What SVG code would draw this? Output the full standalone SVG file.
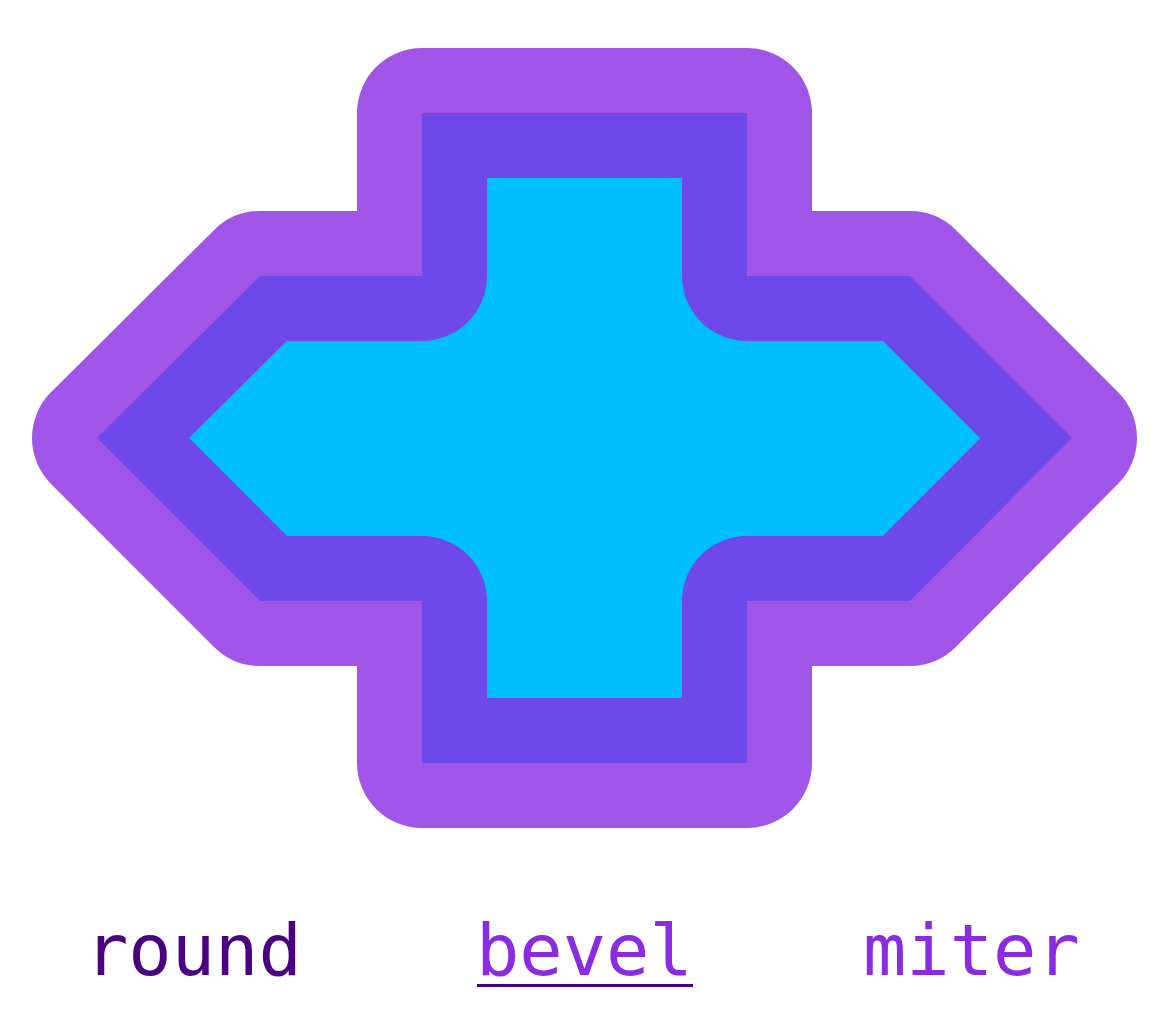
<svg xmlns="http://www.w3.org/2000/svg" width="1170" height="1014" viewBox="0 0 1170 1014">
<style>
.lbl{font-family:"DejaVu Sans Mono","Liberation Mono",monospace;font-size:72px}
</style>
<rect width="1170" height="1014" fill="#ffffff"/>
<g id="shape">
<path d="M422,113 L747,113 L747,276 L910,276 L1072,438 L910,601 L747,601 L747,763 L422,763 L422,601 L260,601 L97,438 L260,276 L422,276 Z" fill="#00bfff" stroke="#8a2be2" stroke-opacity="0.8" stroke-width="130" stroke-linejoin="round"/>
</g>
<g id="label-round"><text class="lbl" x="85" y="975" fill="#4b0082">round</text></g>
<g id="label-bevel"><text class="lbl" x="476" y="975" fill="#8a2be2">bevel</text>
<line x1="477" y1="985.5" x2="693" y2="985.5" stroke="#4b0082" stroke-width="3"/></g>
<g id="label-miter"><text class="lbl" x="863" y="975" fill="#8a2be2">miter</text></g>
</svg>
